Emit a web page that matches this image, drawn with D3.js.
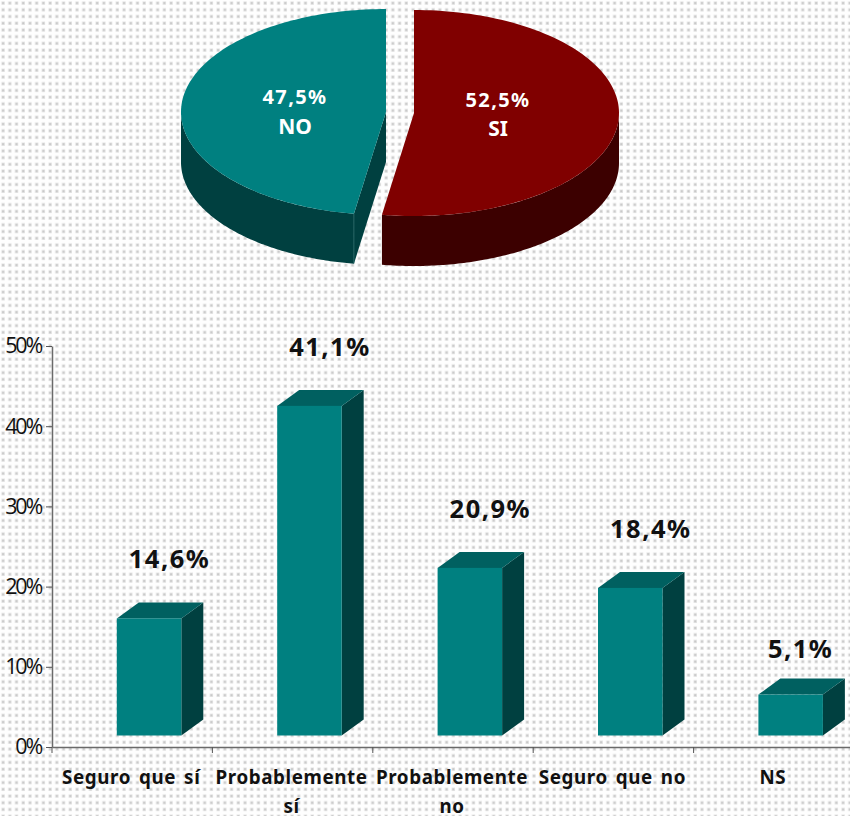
<!DOCTYPE html>
<html><head><meta charset="utf-8">
<script src="https://cdn.jsdelivr.net/npm/d3@7"></script>
<style>html,body{margin:0;padding:0;background:#fff}svg{display:block}</style>
</head><body><div id="c"></div>
<script>
const pieLabels = ["SI","NO"];
const pieValues = [52.5,47.5];
const pieText = ["52,5%","47,5%"];
const categories = ["Seguro que sí","Probablemente sí","Probablemente no","Seguro que no","NS"];
const barValues = [14.6,41.1,20.9,18.4,5.1];
const barText = ["14,6%","41,1%","20,9%","18,4%","5,1%"];
const yTicks = [0,10,20,30,40,50];

const W=850,H=816;
const svg=d3.select("#c").append("svg").attr("width",W).attr("height",H);
const defs=svg.append("defs");
const pat=defs.append("pattern").attr("id","dots").attr("patternUnits","userSpaceOnUse")
  .attr("width",6.72).attr("height",6.72);
pat.append("rect").attr("width",6.72).attr("height",6.72).attr("fill","#fefefe");
pat.append("rect").attr("x",1.4).attr("y",1.4).attr("width",3.4).attr("height",3.4).attr("fill","#e6e6e6");
pat.append("rect").attr("x",2.1).attr("y",2.1).attr("width",2).attr("height",2).attr("fill","#c8c8c8");
svg.append("rect").attr("width",W).attr("height",H).attr("fill","url(#dots)");

const TEAL="#008080",TEALD="#004040",TEALM="#006060",RED="#800000",REDD="#3c0000";
const rx=205,ry=103,depth=50;
const arcs=d3.pie().sort(null)(pieValues);
const cols=[[RED,REDD],[TEAL,TEALD]];
const centers=[[414,113],[386,112]];
const pt=(c,a)=>[c[0]+rx*Math.sin(a),c[1]-ry*Math.cos(a)];
const ell=(a0,a1)=>d3.range(0,121).map(i=>a0+(a1-a0)*i/120);
const line=d3.line();
arcs.forEach((d,i)=>{
  const c=centers[i],a0=d.startAngle,a1=d.endAngle;
  const g=svg.append("g");
  const rim=ell(a0,a1).map(a=>pt(c,a));
  const v0=Math.max(a0,Math.PI/2),v1=Math.min(a1,3*Math.PI/2);
  if(v1>v0){
    const top=ell(v0,v1).map(a=>pt(c,a));
    const bot=top.slice().reverse().map(p=>[p[0],p[1]+depth]);
    g.append("path").attr("d",line(top.concat(bot))+"Z").attr("fill",cols[i][1]);
  }
  if(i===1){
    const p=pt(c,a0);
    g.append("path").attr("d",line([c,p,[p[0],p[1]+depth],[c[0],c[1]+depth]])+"Z").attr("fill",cols[i][1]);
  }
  g.append("path").attr("d",line([c].concat(rim))+"Z").attr("fill",cols[i][0]);
  if(i===1){
    const p=pt(c,a0);
    g.append("line").attr("x1",p[0]).attr("y1",p[1]).attr("x2",p[0]).attr("y2",p[1]+depth).attr("stroke","#2f7070").attr("stroke-width",.7);
  }
});
const labelFont="'Noto Sans',sans-serif";
[[498,107,136],[295,104,134]].forEach((p,i)=>{
  const t=svg.append("g").attr("fill","#fff").attr("font-family",labelFont).attr("font-weight","bold").attr("text-anchor","middle");
  t.append("text").attr("x",p[0]).attr("y",p[1]).attr("font-size",20).attr("letter-spacing",1.4).text(pieText[i]);
  t.append("text").attr("x",p[0]).attr("y",p[2]).attr("font-size",21).text(pieLabels[i]);
});

const y=d3.scaleLinear().domain([0,50]).range([747,346]);
const x=d3.scaleBand().domain(categories).range([52,854]);
const lift=11.5, bw=64.5, dx=22, dy=16, off=64.8;
const gy=svg.append("g").attr("transform","translate(52,0)").call(d3.axisLeft(y).tickValues(yTicks).tickFormat(d=>d+"%").tickSize(6).tickSizeOuter(0));
gy.select(".domain").attr("stroke","#6a6a6a").attr("stroke-width",1.5);
gy.selectAll(".tick line").attr("stroke","#555").attr("stroke-width",1);
gy.selectAll("text").attr("font-family","'Open Sans',sans-serif").attr("font-size",21.5).attr("letter-spacing",-2.2).attr("fill","#111").attr("x",-11);
const gx=svg.append("g").attr("transform","translate(0,747)").call(d3.axisBottom(x).tickSize(0).tickFormat(""));
gx.select(".domain").attr("stroke","#6a6a6a").attr("stroke-width",1.5);
gx.selectAll(".tick").remove();
categories.forEach(c=>{
  gx.append("line").attr("x1",x(c)).attr("x2",x(c)).attr("y1",0).attr("y2",6).attr("stroke","#555");
});
categories.forEach((c,i)=>{
  const xl=x(c)+off, yb=735.5, yt=y(barValues[i])-lift;
  const g=svg.append("g");
  g.append("path").attr("d",line([[xl+bw,yb],[xl+bw+dx,yb-dy],[xl+bw+dx,yt-dy],[xl+bw,yt]])+"Z").attr("fill",TEALD);
  g.append("path").attr("d",line([[xl,yt],[xl+dx,yt-dy],[xl+bw+dx,yt-dy],[xl+bw,yt]])+"Z").attr("fill",TEALM);
  g.append("rect").attr("x",xl).attr("y",yt).attr("width",bw).attr("height",yb-yt).attr("fill",TEAL);
  const small=barValues[i]<10;
  svg.append("text").attr("x",xl+bw/2+(small?10:20.5)).attr("y",yt-(small?37:50)).attr("text-anchor","middle")
    .attr("font-family",labelFont).attr("font-weight","bold").attr("font-size",25.5).attr("letter-spacing",1.5).attr("fill","#111").text(barText[i]);
  const words=c.match(/^(Probablemente) (.+)$/);
  const lines=words?[words[1],words[2]]:[c];
  const cx=x(c)+x.bandwidth()/2-1;
  lines.forEach((l,j)=>svg.append("text").attr("x",cx).attr("y",784+j*28.5).attr("text-anchor","middle")
    .attr("font-family",labelFont).attr("font-weight","bold").attr("font-size",18.8).attr("letter-spacing",0.6).attr("word-spacing",2.5).attr("fill","#111").text(l));
});
</script></body></html>
